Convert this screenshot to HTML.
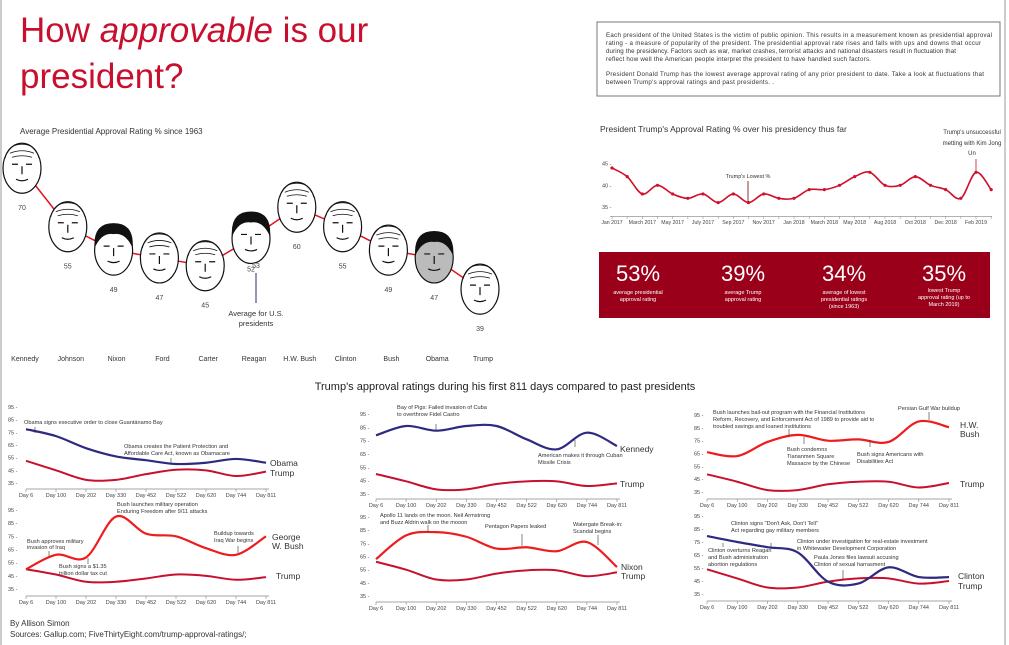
<!DOCTYPE html>
<html><head><meta charset="utf-8">
<style>
body{margin:0;background:#fff;}
svg{display:block;font-family:"Liberation Sans",sans-serif;}
.ann{font-size:5.6px;fill:#333;}
.tk{font-size:5.5px;fill:#444;}
.lb{font-size:8.5px;fill:#333;}
</style></head>
<body>
<svg id="chart" width="1009" height="645" viewBox="0 0 1009 645">
<line x1="1" y1="0" x2="1" y2="645" stroke="#ccc" stroke-width="2"/>
<line x1="1005" y1="0" x2="1005" y2="645" stroke="#ccc" stroke-width="2"/>
<text x="20" y="42" font-size="35" fill="#c8102e">How <tspan font-style="italic">approvable</tspan> is our</text>
<text x="20" y="88" font-size="35" fill="#c8102e">president?</text>
<g>
<rect x="597" y="22" width="403" height="74" fill="none" stroke="#777" stroke-width="1"/>
<g font-size="6.2" fill="#333" textLength="385">
<text x="606" y="37" textLength="386">Each president of the United States is the victim of public opinion. This results in a measurement known as presidential approval</text>
<text x="606" y="45" textLength="375">rating - a measure of popularity of the president. The presidential approval rate rises and falls with ups and downs that occur</text>
<text x="606" y="53" textLength="350">during the presidency. Factors such as war, market crashes,  terrorist attacks and national disasters result in fluctuation that</text>
<text x="606" y="61" textLength="265">reflect how well the American people interpret the president to have handled such factors.</text>
<text x="606" y="76" textLength="378">President Donald Trump has the lowest average approval rating of any prior president to date. Take a look at fluctuations that</text>
<text x="606" y="84" textLength="168">between Trump's approval ratings and past presidents. .</text>
</g>
</g>
<text x="20" y="134" font-size="8" fill="#333">Average Presidential Approval Rating % since 1963</text>
<g id="faces"></g>
<line x1="256" y1="273" x2="256" y2="303" stroke="#2a2a7a" stroke-width="1"/>
<text x="256" y="316" font-size="7.5" fill="#333" text-anchor="middle">Average for U.S.</text>
<text x="256" y="326" font-size="7.5" fill="#333" text-anchor="middle">presidents</text>

<text x="600" y="132" font-size="8.5" fill="#333">President Trump's Approval Rating % over his presidency thus far</text>
<g id="trump"></g>

<g>
<rect x="599" y="252" width="391" height="66" fill="#9a0019"/>
<g fill="#fff" text-anchor="middle">
<text x="638" y="281" font-size="22">53%</text>
<text x="638" y="294" font-size="5.5">average presidential</text><text x="638" y="301" font-size="5.5">approval rating</text>
<text x="743" y="281" font-size="22">39%</text>
<text x="743" y="294" font-size="5.5">average Trump</text><text x="743" y="301" font-size="5.5">approval rating</text>
<text x="844" y="281" font-size="22">34%</text>
<text x="844" y="294" font-size="5.5">average of lowest</text><text x="844" y="301" font-size="5.5">presidential ratings</text><text x="844" y="308" font-size="5.5">(since 1963)</text>
<text x="944" y="281" font-size="22">35%</text>
<text x="944" y="292" font-size="5.5">lowest Trump</text><text x="944" y="299" font-size="5.5">approval rating (up to</text><text x="944" y="306" font-size="5.5">March 2019)</text>
</g></g>

<text x="505" y="390" font-size="11" fill="#222" text-anchor="middle">Trump's approval ratings during his first 811 days compared to past presidents</text>
<g id="panels"></g>
<g id="anns">
<text class="ann" x="24" y="424">Obama signs executive order to close Guantánamo Bay</text>
<line x1="35" y1="427" x2="35" y2="433" stroke="#333" stroke-width="0.6"/>
<text class="ann" x="124" y="448">Obama creates the Patient Protection and</text>
<text class="ann" x="124" y="455">Affordable Care Act, known as Obamacare</text>
<line x1="171" y1="458" x2="171" y2="464" stroke="#333" stroke-width="0.6"/>
<text class="lb" x="270" y="466">Obama</text><text class="lb" x="270" y="476">Trump</text>
<text class="ann" x="117" y="506">Bush launches military operation</text>
<text class="ann" x="117" y="513">Enduring Freedom after 9/11 attacks</text>
<text class="ann" x="27" y="543">Bush approves military</text><text class="ann" x="27" y="549">invasion of Iraq</text>
<line x1="49" y1="551" x2="49" y2="557" stroke="#333" stroke-width="0.6"/>
<text class="ann" x="59" y="568">Bush signs a $1.35</text><text class="ann" x="59" y="575">trillion dollar tax cut</text>
<line x1="88" y1="558" x2="88" y2="564" stroke="#333" stroke-width="0.6"/>
<text class="ann" x="214" y="535">Buildup towards</text><text class="ann" x="214" y="542">Iraq War begins</text>
<line x1="238" y1="546" x2="238" y2="553" stroke="#333" stroke-width="0.6"/>
<text class="lb" x="272" y="540">George</text><text class="lb" x="272" y="549">W. Bush</text><text class="lb" x="276" y="579">Trump</text>
<text class="ann" x="397" y="409">Bay of Pigs: Failed invasion of Cuba</text>
<text class="ann" x="397" y="416">to overthrow Fidel Castro</text>
<line x1="436" y1="424" x2="436" y2="431" stroke="#333" stroke-width="0.6"/>
<text class="ann" x="538" y="457">American makes it through Cuban</text><text class="ann" x="538" y="464">Missile Crisis</text>
<line x1="575" y1="440" x2="575" y2="447" stroke="#333" stroke-width="0.6"/>
<text class="lb" x="620" y="452">Kennedy</text><text class="lb" x="620" y="487">Trump</text>
<text class="ann" x="380" y="517">Apollo 11 lands on the moon. Neil Armstrong</text>
<text class="ann" x="380" y="524">and Buzz Aldrin walk on the mooon</text>
<line x1="428" y1="525" x2="428" y2="532" stroke="#333" stroke-width="0.6"/>
<text class="ann" x="485" y="528">Pentagon Papers leaked</text>
<line x1="522" y1="534" x2="522" y2="546" stroke="#333" stroke-width="0.6"/>
<text class="ann" x="573" y="526">Watergate Break-in:</text><text class="ann" x="573" y="533">Scandal begins</text>
<line x1="598" y1="535" x2="598" y2="545" stroke="#333" stroke-width="0.6"/>
<text class="lb" x="621" y="570">Nixon</text><text class="lb" x="621" y="579">Trump</text>
<text class="ann" x="713" y="414">Bush launches bail-out program with the Financial Institutions</text>
<text class="ann" x="713" y="421">Reform, Recovery, and Enforcement Act of 1989 to provide aid to</text>
<text class="ann" x="713" y="428">troubled savings and loaned institutions</text>
<line x1="789" y1="429" x2="789" y2="436" stroke="#333" stroke-width="0.6"/>
<text class="ann" x="898" y="410">Persian Gulf War buildup</text>
<line x1="929" y1="412" x2="929" y2="420" stroke="#333" stroke-width="0.6"/>
<text class="ann" x="787" y="451">Bush condemns</text><text class="ann" x="787" y="458">Tiananmen Square</text><text class="ann" x="787" y="465">Massacre by the Chinese</text>
<line x1="804" y1="437" x2="804" y2="444" stroke="#333" stroke-width="0.6"/>
<text class="ann" x="857" y="456">Bush signs Americans with</text><text class="ann" x="857" y="463">Disabilities Act</text>
<line x1="870" y1="440" x2="870" y2="447" stroke="#333" stroke-width="0.6"/>
<text class="lb" x="960" y="428">H.W.</text><text class="lb" x="960" y="437">Bush</text><text class="lb" x="960" y="487">Trump</text>
<text class="ann" x="731" y="525">Clinton signs "Don't Ask, Don't Tell"</text>
<text class="ann" x="731" y="532">Act regarding gay military members</text>
<line x1="771" y1="543" x2="771" y2="549" stroke="#333" stroke-width="0.6"/>
<text class="ann" x="797" y="543">Clinton under investigation for real-estate investment</text>
<text class="ann" x="797" y="550">in Whitewater Development Corporation</text>
<text class="ann" x="708" y="552">Clinton overturns Reagan</text><text class="ann" x="708" y="559">and Bush administration</text><text class="ann" x="708" y="566">abortion regulations</text>
<line x1="723" y1="543" x2="723" y2="547" stroke="#333" stroke-width="0.6"/>
<text class="ann" x="814" y="559">Paula Jones files lawsuit accusing</text><text class="ann" x="814" y="566">Clinton of sexual harrasment</text>
<line x1="843" y1="570" x2="843" y2="580" stroke="#333" stroke-width="0.6"/>
<text class="lb" x="958" y="579">Clinton</text><text class="lb" x="958" y="589">Trump</text>
</g>
<text x="10" y="626" font-size="8" fill="#333">By Allison Simon</text>
<text x="10" y="637" font-size="8" fill="#333">Sources: Gallup.com; FiveThirtyEight.com/trump-approval-ratings/;</text>
</svg>
<script>
const NS="http://www.w3.org/2000/svg";
// Faces chart data
const presidents=["Kennedy","Johnson","Nixon","Ford","Carter","Reagan","H.W. Bush","Clinton","Bush","Obama","Trump"];
const avgRatings=[70,55,49,47,45,52,60,55,49,47,39];
const darkHair=[0,0,1,0,0,1,0,0,0,1,0];
// Trump monthly
const trumpMonths=["Jan 2017","","March 2017","","May 2017","","July 2017","","Sep 2017","","Nov 2017","","Jan 2018","","March 2018","","May 2018","","Aug 2018","","Oct 2018","","Dec 2018","","Feb 2019",""];
const trumpMonthly=[44,42,38,40,38,37,38,36,38,36,38,37,37,39,39,40,42,43,40,40,42,40,39,37,43,39];
const trumpYTicks=[45,40,35];
// Panels
const dayLabels=["Day 6","Day 100","Day 202","Day 330","Day 452","Day 522","Day 620","Day 744","Day 811"];
const panelYTicks=[95,85,75,65,55,45,35];
const obamaVals=[77.5,72,62.5,56,53,50,51,54,51];
const trumpVsObama=[52.5,45,37.5,37.5,42,45.5,45,40.5,44];
const gwBushVals=[50,61,59,90,77,75,66,61,75];
const trumpVsGwBush=[50,46,40.5,40.5,43,46,45,42,44];
const kennedyVals=[79,86,82.5,86,86,76,68.5,81,71];
const trumpVsKennedy=[50,44.5,38.5,38.5,42.5,44.5,44.5,41,43];
const nixonVals=[63,81,83.5,80,71,72,69,76,57];
const trumpVsNixon=[61,55,47.5,47.5,52,54.5,54.5,50,53];
const hwBushVals=[66,63,74,79.5,75,76,74,90,85.5];
const trumpVsHwBush=[48.8,43,36.5,36.5,41,43,43,38.5,42];
const clintonVals=[79.6,75,71,67,44.5,43,55.5,48,48];
const trumpVsClinton=[54,47,40,40,44.5,47,47,43,45];

function el(tag,attrs,parent){const e=document.createElementNS(NS,tag);for(const k in attrs)e.setAttribute(k,attrs[k]);parent.appendChild(e);return e;}
function smooth(pts){let d=`M${pts[0][0]},${pts[0][1]}`;for(let i=0;i<pts.length-1;i++){const p0=pts[i-1]||pts[i],p1=pts[i],p2=pts[i+1],p3=pts[i+2]||p2;
const c1=[p1[0]+(p2[0]-p0[0])/6,p1[1]+(p2[1]-p0[1])/6],c2=[p2[0]-(p3[0]-p1[0])/6,p2[1]-(p3[1]-p1[1])/6];
d+=` C${c1[0]},${c1[1]} ${c2[0]},${c2[1]} ${p2[0]},${p2[1]}`;}return d;}

// faces
const fg=document.getElementById('faces');
const faceX=i=>22+i*45.8;
const faceY=v=>240-3.9*(v-51.6);
const fpts=avgRatings.map((v,i)=>[faceX(i),faceY(v)]);
const conn=el('polyline',{points:fpts.map(p=>p.join(',')).join(' '),fill:'none',stroke:'#e0141e','stroke-width':1.5},fg);


avgRatings.forEach((v,i)=>{
  const cx=faceX(i),cy=faceY(v);
  const g=el('g',{},fg);
  
  
  el('ellipse',{cx:cx,cy:cy,rx:19,ry:25,fill:i==9?'#bbb':'#fff',stroke:'#111','stroke-width':1.2},g);
  if(darkHair[i]) el('path',{d:`M${cx-19},${cy-2} Q${cx-21},${cy-27} ${cx},${cy-27} Q${cx+21},${cy-27} ${cx+19},${cy-2} Q${cx+12},${cy-18} ${cx},${cy-16} Q${cx-12},${cy-18} ${cx-19},${cy-2}Z`,fill:'#111'},g);
  else el('path',{d:`M${cx-17},${cy-10} Q${cx-14},${cy-24} ${cx},${cy-24} Q${cx+14},${cy-24} ${cx+17},${cy-10} M${cx-12},${cy-15} q12,-5 24,0 M${cx-10},${cy-11} q10,-3 20,0`,fill:'none',stroke:'#111','stroke-width':0.8},g);
  el('path',{d:`M${cx-10},${cy-4} h6 M${cx+4},${cy-4} h6 M${cx},${cy-2} v8 M${cx-6},${cy+11} q6,3 12,0`,fill:'none',stroke:'#111','stroke-width':1.2},g);
  const t=el('text',{x:cx,y:cy+(i==5?33:42),'font-size':7,fill:'#444','text-anchor':'middle'},fg);
  t.textContent=v;
  
  
  const n=el('text',{x:cx+3,y:361,'font-size':7,fill:'#333','text-anchor':'middle'},fg);
  n.textContent=presidents[i];
  
  
});
const t53=el('text',{x:256,y:268,'font-size':7,fill:'#444','text-anchor':'middle'},fg);t53.textContent='53';

// Trump line chart
const tg=document.getElementById('trump');
const tx=i=>612+i*(364/24);
const ty=v=>185.3-(v-40)*4.33;
el('line',{x1:610,y1:216.5,x2:992,y2:216.5,stroke:'#999','stroke-width':0.8},tg);
trumpYTicks.forEach(v=>{const t=el('text',{x:602,y:ty(v)+2,'font-size':5.5,fill:'#444'},tg);t.textContent=v+' -';});
trumpMonths.forEach((m,i)=>{el('line',{x1:tx(i),y1:216,x2:tx(i),y2:219,stroke:'#999','stroke-width':0.6},tg);
  if(m){const t=el('text',{x:tx(i),y:224,'font-size':5.2,fill:'#444','text-anchor':'middle'},tg);t.textContent=m;}});
const tp=trumpMonthly.map((v,i)=>[tx(i),ty(v)]);
const tl=el('path',{d:smooth(tp),fill:'none',stroke:'#d0102a','stroke-width':1.6},tg);


tp.forEach(p=>{const c=el('circle',{cx:p[0],cy:p[1],r:1.6,fill:'#d0102a'},tg);
  
  });
el('line',{x1:748,y1:181,x2:748,y2:202,stroke:'#700',"stroke-width":0.8},tg);
let a=el('text',{x:748,y:178,'font-size':5.5,fill:'#333','text-anchor':'middle'},tg);a.textContent="Trump's Lowest %";
el('line',{x1:976,y1:159,x2:976,y2:172,stroke:'#d0102a',"stroke-width":0.8},tg);
[["Trump's unsuccessful",134],["metting with Kim Jong",145],["Un",155]].forEach(r=>{const t=el('text',{x:972,y:r[1],'font-size':6,fill:'#333','text-anchor':'middle'},tg);t.textContent=r[0];});

// panels
const pg=document.getElementById('panels');
function panel(name,x0,x1,y95,y35,axisY,ylx,pres,trump,presColor){
  const g=el('g',{},pg);
  
  
  const px=i=>x0+i*(x1-x0)/8;
  const py=v=>y95+(95-v)*(y35-y95)/60;
  el('line',{x1:x0,y1:axisY,x2:x1+3,y2:axisY,stroke:'#888','stroke-width':0.8},g);
  panelYTicks.forEach(v=>{const t=el('text',{class:'tk',x:ylx,y:py(v)+2},g);t.textContent=v+' -';});
  dayLabels.forEach((d,i)=>{el('line',{x1:px(i),y1:axisY,x2:px(i),y2:axisY+3,stroke:'#888','stroke-width':0.6},g);
    const t=el('text',{class:'tk',x:px(i),y:axisY+8,'text-anchor':'middle'},g);t.textContent=d;});
  const tl=el('path',{d:smooth(trump.map((v,i)=>[px(i),py(v)])),fill:'none',stroke:'#c8102e','stroke-width':2},g);
  
  
  const pl=el('path',{d:smooth(pres.map((v,i)=>[px(i),py(v)])),fill:'none',stroke:presColor,'stroke-width':2.2},g);
  
  
}
panel('obama-panel',26,266,407,483,489,8,obamaVals,trumpVsObama,'#2d2a80');
panel('gw-bush-panel',26,266,510,589,596,8,gwBushVals,trumpVsGwBush,'#ee1c1c');
panel('kennedy-panel',376,617,414,494,499,360,kennedyVals,trumpVsKennedy,'#2d2a80');
panel('nixon-panel',376,617,517,596,602,360,nixonVals,trumpVsNixon,'#ee1c1c');
panel('hw-bush-panel',707,949,415,492,499,694,hwBushVals,trumpVsHwBush,'#ee1c1c');
panel('clinton-panel',707,949,516,594,601,694,clintonVals,trumpVsClinton,'#2d2a80');
</script>
</body></html>
